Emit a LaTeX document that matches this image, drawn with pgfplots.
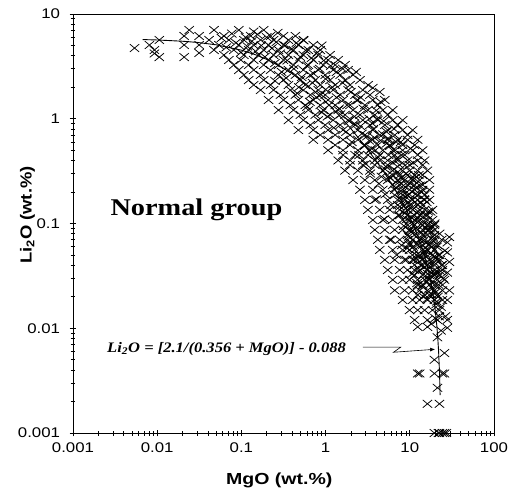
\documentclass[border=0pt]{standalone}
\usepackage{fontspec}
\setmainfont{Liberation Serif}
\newfontfamily\tickfont{Liberation Sans}[FakeStretch=1.2]
\newfontfamily\labelfont{Liberation Sans}
\newfontfamily\titlefont{Liberation Serif}[FakeStretch=1.18, BoldFeatures={FakeStretch=1.18}]
\newfontfamily\eqfont{Liberation Serif}
\usepackage{pgfplots}
\pgfplotsset{compat=1.18}
\usetikzlibrary{arrows.meta}

\begin{document}
\begin{tikzpicture}
\begin{loglogaxis}[
  scale only axis,
  width=421pt, height=419pt,
  xmin=0.001, xmax=100, ymin=0.001, ymax=10,
  xtick={0.001,0.01,0.1,1,10,100},
  xticklabels={0.001,0.01,0.1,1,10,100},
  ytick={0.001,0.01,0.1,1,10},
  yticklabels={0.001,0.01,0.1,1,10},
  xtick pos=bottom, ytick pos=left,
  tick align=center,
  major tick length=7pt, minor tick length=5pt,
  tick style={black, line width=0.6pt},
  axis line style={line width=0.8pt},
  ticklabel style={font=\tickfont\fontsize{14}{14}\selectfont},
  xticklabel style={anchor=center, yshift=-11pt},
  yticklabel style={anchor=east, xshift=-6pt},
  xlabel={\scalebox{1.22}[1]{\labelfont\bfseries MgO (wt.\%)}},
  ylabel={\scalebox{1.15}[1]{\labelfont\bfseries Li\textsubscript{2}O (wt.\%)}},
  label style={font=\fontsize{16}{16}\selectfont},
  xlabel style={at={(axis description cs:0.49,-0.112)}, anchor=center},
  ylabel style={at={(axis description cs:-0.108,0.52)}, anchor=center},
  clip=false,
]
% measured points
\addplot[only marks, mark=x, mark size=5.5pt, black, line width=0.75pt,
  mark options={xscale=1.2}] coordinates {
(0.024,7.03)(0.0473,7.03)(0.0932,7.03)(0.184,7.03)
(0.0209,6.17)(0.0315,6.17)(0.062,6.17)(0.129,6.17)(0.222,6.17)(0.316,6.17)(0.438,6.17)
(0.0106,5.65)(0.0413,5.65)(0.071,5.65)(0.107,5.65)(0.169,5.65)(0.241,5.65)(0.362,5.65)(0.544,5.65)
(0.00809,5.06)(0.0209,5.06)(0.0315,5.06)(0.0541,5.06)(0.0932,5.06)(0.140,5.06)(0.210,5.06)(0.316,5.06)(0.475,5.06)(0.714,5.06)
(0.00538,4.73)(0.00927,4.53)(0.0473,4.53)(0.0813,4.53)(0.122,4.53)(0.184,4.53)(0.276,4.53)(0.415,4.53)(0.624,4.53)(0.864,4.53)
(0.0106,3.88)(0.0209,3.88)(0.0315,4.25)(0.00927,4.2)(0.062,4.06)(0.107,4.06)(0.160,4.06)(0.241,4.06)(0.362,4.06)(0.544,4.06)(0.818,4.06)(1.13,4.06)
(0.071,3.64)(0.0984,3.64)(0.140,3.64)(0.210,3.64)(0.316,3.64)(0.475,3.64)(0.714,3.64)(1.07,3.64)(1.41,3.64)
(0.0813,3.26)(0.122,3.26)(0.184,3.26)(0.276,3.26)(0.415,3.26)(0.624,3.26)(0.937,3.26)(1.30,3.26)(1.70,3.26)
(0.0932,2.92)(0.140,2.92)(0.222,2.92)(0.362,2.92)(0.544,2.92)(0.818,2.92)(1.23,2.92)(1.85,2.92)
(0.107,2.62)(0.169,2.62)(0.276,2.62)(0.438,2.62)(0.659,2.62)(0.989,2.62)(1.49,2.62)(2.12,2.62)
(0.122,2.34)(0.184,2.34)(0.316,2.34)(0.502,2.34)(0.754,2.34)(1.13,2.34)(1.70,2.34)(2.56,2.34)
(0.140,2.10)(0.222,2.10)(0.362,2.10)(0.574,2.10)(0.864,2.10)(1.30,2.10)(1.95,2.10)
(3.64,1.97)(4.40,1.80)
(0.169,1.88)(0.241,1.88)(0.382,1.88)(0.544,1.88)(0.818,1.88)(1.23,1.88)(1.85,1.88)(2.77,1.88)
(0.291,1.69)(0.438,1.69)(0.659,1.69)(0.989,1.69)(1.49,1.69)(2.24,1.69)(3.36,1.69)
(0.210,1.51)(0.316,1.51)(0.475,1.51)(0.714,1.51)(1.07,1.51)(1.61,1.51)(2.42,1.51)(3.64,1.51)(5.05,1.51)
(0.382,1.35)(0.574,1.35)(0.864,1.35)(1.30,1.35)(1.95,1.35)(2.93,1.35)(4.17,1.35)
(0.276,1.21)(0.415,1.21)(0.624,1.21)(0.937,1.21)(1.41,1.21)(2.12,1.21)(3.18,1.21)(4.78,1.21)(6.27,1.21)
(0.502,1.09)(0.754,1.09)(1.13,1.09)(1.70,1.09)(2.56,1.09)(3.84,1.09)(5.47,1.09)
(0.362,0.97)(0.544,0.97)(0.818,0.97)(1.23,0.97)(1.85,0.97)(2.77,0.97)(4.17,0.97)(6.27,0.97)(8.22,0.97)
(0.659,0.872)(0.989,0.872)(1.49,0.872)(2.24,0.872)(3.36,0.872)(5.05,0.872)(7.18,0.872)
(0.475,0.78)(0.714,0.78)(1.07,0.78)(1.61,0.78)(2.42,0.78)(3.64,0.78)(5.47,0.78)(8.22,0.78)(10.8,0.78)
(0.864,0.70)(1.30,0.70)(1.95,0.70)(2.93,0.70)(4.40,0.70)(6.62,0.70)(9.42,0.70)
(0.714,0.63)(1.07,0.63)(1.61,0.63)(2.42,0.63)(3.64,0.63)(5.47,0.63)(7.18,0.63)(9.42,0.63)(12.4,0.63)
(1.30,0.561)(1.95,0.561)(2.93,0.561)(4.17,0.561)(5.78,0.561)(8.22,0.561)(11.4,0.561)
(1.07,0.50)(1.61,0.50)(2.42,0.50)(3.36,0.50)(4.78,0.50)(6.27,0.50)(8.22,0.50)(10.8,0.50)(14.2,0.50)
(1.61,0.451)(2.24,0.451)(3.18,0.451)(4.40,0.451)(6.62,0.451)(8.68,0.451)(12.4,0.451)
(1.41,0.40)(1.95,0.40)(2.77,0.40)(3.84,0.40)(5.47,0.40)(7.18,0.40)(9.42,0.40)(12.4,0.40)(15.0,0.40)
(1.95,0.362)(2.77,0.362)(3.84,0.362)(5.47,0.362)(7.58,0.362)(9.95,0.362)(14.2,0.362)
(1.70,0.32)(2.42,0.32)(3.36,0.32)(4.78,0.32)(6.27,0.32)(8.22,0.32)(9.95,0.32)(12.4,0.32)(16.2,0.32)
(6.27,0.29)(7.58,0.29)(9.42,0.29)(11.4,0.29)(14.2,0.29)
(2.12,0.26)(2.93,0.26)(3.84,0.26)(5.47,0.26)(7.18,0.26)(8.68,0.26)(10.8,0.26)(13.1,0.26)(17.1,0.26)
(6.27,0.233)(7.58,0.233)(9.42,0.233)(11.4,0.233)(14.2,0.233)
(2.56,0.21)(3.64,0.21)(4.78,0.21)(6.62,0.21)(8.22,0.21)(9.95,0.21)(11.4,0.21)(14.2,0.21)(17.1,0.21)
(6.62,0.187)(8.22,0.187)(9.42,0.187)(12.4,0.187)(15.0,0.187)
(2.93,0.168)(3.84,0.168)(5.47,0.168)(7.18,0.168)(8.68,0.168)(10.8,0.168)(12.4,0.168)(15.0,0.168)(17.1,0.168)
(7.18,0.15)(8.68,0.15)(9.95,0.15)(12.4,0.15)(14.2,0.15)
(3.18,0.135)(4.40,0.135)(5.78,0.135)(7.58,0.135)(9.42,0.135)(10.8,0.135)(13.1,0.135)(15.0,0.135)(18.6,0.135)
(7.58,0.12)(9.42,0.12)(11.4,0.12)(13.1,0.12)(16.2,0.12)
(3.64,0.108)(4.78,0.108)(6.27,0.108)(8.22,0.108)(9.95,0.108)(11.4,0.108)(13.1,0.108)(16.2,0.108)(18.6,0.108)
(9.42,0.0968)(11.4,0.0968)(14.2,0.0968)(16.2,0.0968)(19.6,0.0968)
(3.84,0.087)(5.05,0.087)(6.62,0.087)(8.22,0.087)(9.95,0.087)(12.4,0.087)(14.2,0.087)(17.1,0.087)(19.6,0.087)
(9.42,0.0777)(11.4,0.0777)(14.2,0.0777)(16.2,0.0777)(19.6,0.0777)
(29.5,0.0743)
(4.17,0.07)(5.78,0.07)(7.58,0.07)(9.42,0.07)(10.8,0.07)(13.1,0.07)(15.0,0.07)(18.6,0.07)(27.9,0.066)
(9.95,0.0624)(12.4,0.0624)(14.2,0.0624)(17.1,0.0624)(21.3,0.0624)
(4.40,0.056)(6.27,0.056)(8.22,0.056)(9.95,0.056)(11.4,0.056)(14.2,0.056)(16.2,0.056)(19.6,0.056)(27.9,0.053)
(10.8,0.05)(13.1,0.05)(15.0,0.05)(18.6,0.05)(22.5,0.05)
(5.05,0.045)(6.62,0.045)(8.68,0.045)(10.8,0.045)(12.4,0.045)(14.2,0.045)(17.1,0.045)(21.3,0.045)(29.5,0.043)
(11.4,0.0402)(14.2,0.0402)(16.2,0.0402)(19.6,0.0402)(24.4,0.0402)
(5.47,0.036)(7.58,0.036)(9.42,0.036)(11.4,0.036)(13.1,0.036)(16.2,0.036)(19.6,0.036)(24.4,0.036)(27.9,0.034)
(11.4,0.0322)(14.2,0.0322)(17.1,0.0322)(19.6,0.0322)(22.5,0.0322)
(6.27,0.029)(8.22,0.029)(9.95,0.029)(12.4,0.029)(15.0,0.029)(17.1,0.029)(21.3,0.029)(25.8,0.029)
(12.4,0.0259)(14.2,0.0259)(17.1,0.0259)(19.6,0.0259)(24.4,0.0259)
(6.62,0.023)(8.68,0.023)(10.8,0.023)(13.1,0.023)(16.2,0.023)(19.6,0.023)(24.4,0.023)(29.5,0.023)
(12.4,0.0208)(15.0,0.0208)(17.1,0.0208)(21.3,0.0208)
(8.22,0.0186)(10.8,0.0186)(13.1,0.0186)(16.2,0.0186)(19.6,0.0186)(24.4,0.0186)(27.9,0.0186)
(9.95,0.0149)(12.4,0.0149)(15.0,0.0149)(18.6,0.0149)(22.5,0.0149)
(11.4,0.012)(16.2,0.012)(21.3,0.012)(27.9,0.012)
(12.4,0.0103)(16.2,0.0103)(27.9,0.0101)
(21.3,0.0082)(25.8,0.0058)(19.6,0.005)
(12.4,0.0037)(13.1,0.0037)(19.6,0.0037)(24.4,0.0037)(25.8,0.0037)
(21.3,0.0027)(16.2,0.0019)(22.5,0.0019)
(19.6,0.001)(21.9,0.001)(22.5,0.001)(24.4,0.001)(25.8,0.001)(27.2,0.001)
(0.058,5.9)(0.066,4.8)(0.077,6.5)(0.086,5.3)(0.099,4.3)(0.112,6.0)(0.118,4.9)(0.133,5.5)
(0.148,4.4)(0.155,6.4)(0.172,5.0)(0.19,3.9)(0.2,6.0)(0.23,4.7)(0.25,3.4)(0.26,5.4)
(0.29,4.2)(0.3,2.8)(0.33,5.0)(0.35,3.6)(0.39,4.6)(0.42,3.0)(0.45,5.3)(0.5,3.9)
(0.52,2.5)(0.58,4.5)(0.6,3.2)(0.68,3.8)(0.72,2.7)(0.8,4.3)(0.85,3.0)(0.95,3.6)
(1.0,2.4)(1.15,3.2)(1.2,2.0)(1.35,2.8)
(0.46,1.75)(0.6,1.3)(0.7,2.2)(0.78,1.6)(0.9,1.15)(1.0,1.9)(1.1,1.35)(1.25,0.82)
(1.35,1.6)(1.5,1.1)(1.6,2.2)(1.75,0.75)(1.8,1.35)(2.0,1.8)(2.05,0.6)(2.2,1.05)
(2.35,1.5)(2.5,0.45)(2.6,0.85)(2.8,1.25)(3.0,0.37)(3.1,0.68)(3.3,1.0)(3.5,0.52)
(3.7,0.8)(4.0,1.2)(4.2,0.43)(4.5,0.62)(4.9,0.95)(5.2,0.35)(5.8,0.55)(6.5,0.8)
(7.0,0.42)(7.8,0.6)(8.8,0.36)(10.2,0.52)
(4.3,0.24)(5.1,0.19)(5.7,0.28)(6.0,0.15)(6.8,0.22)(7.3,0.12)(7.9,0.27)(8.5,0.095)
(8.9,0.18)(9.7,0.075)(10.2,0.24)(10.4,0.14)(11.0,0.06)(11.6,0.19)(12.0,0.11)(12.8,0.048)
(13.4,0.16)(13.7,0.082)(14.8,0.038)(15.3,0.12)(15.6,0.065)(16.8,0.03)(17.4,0.09)(17.8,0.052)
(18.2,0.021)(18.9,0.075)(19.2,0.043)(20.3,0.033)(20.6,0.017)(21.0,0.06)(22.0,0.026)(23.0,0.045)
(23.5,0.016)(24.0,0.07)(25.0,0.03)(26.0,0.055)(10.6,0.033)(9.1,0.045)(8.0,0.062)(7.0,0.05)
(12.2,0.027)(14.5,0.02)(6.0,0.07)(5.0,0.11)(26.5,0.013)(20.0,0.0125)(23.5,0.0095)(18.0,0.011)
(6.5,0.33)(7.5,0.25)(8.2,0.2)(9.0,0.3)(9.6,0.16)(10.5,0.27)(10.9,0.1)(11.8,0.22)
(12.6,0.13)(13.0,0.07)(13.9,0.2)(14.6,0.105)(15.2,0.055)(15.9,0.16)(16.5,0.085)(17.2,0.042)
(17.7,0.13)(18.4,0.06)(19.0,0.033)(19.8,0.1)(20.5,0.047)(21.6,0.02)(22.6,0.08)(23.2,0.035)
(10.0,0.085)(11.2,0.045)(12.9,0.035)(14.0,0.025)(16.0,0.019)(8.7,0.125)(7.6,0.145)(9.3,0.058)
(11.0,0.38)(12.8,0.29)(8.0,0.45)(6.9,0.6)(5.3,0.75)(4.6,0.28)(3.4,0.3)(4.0,0.17)
(0.25,2.3)(0.34,2.45)(0.48,2.0)(0.65,1.45)(0.88,1.7)(1.05,1.05)(1.45,1.25)(1.9,0.95)
(2.6,1.6)(2.9,0.55)(3.8,0.66)(5.5,0.65)(4.5,1.45)(3.2,2.1)(2.3,2.8)(1.6,3.0)
(0.9,5.0)(0.55,5.6)(0.27,6.6)(0.14,6.8)
(8.4,0.23)(9.9,0.19)(11.5,0.16)(13.3,0.12)(15.5,0.09)(17.5,0.065)(19.3,0.048)(21.2,0.035)
(9.2,0.11)(10.7,0.085)(12.3,0.065)(14.2,0.046)(16.3,0.033)(18.6,0.024)(20.9,0.018)(7.8,0.17)
(9.0,0.14)(10.3,0.115)(11.9,0.09)(13.6,0.072)(15.1,0.052)(16.9,0.038)(18.8,0.028)(20.2,0.022)
(22.3,0.013)(11.3,0.27)(13.2,0.23)(14.8,0.17)(16.6,0.13)(18.1,0.095)(19.9,0.07)(21.8,0.05)
(23.8,0.04)(13.5,0.04)(15.8,0.028)(12.0,0.05)(10.0,0.065)
(2.7,0.72)(3.3,0.62)(3.9,0.5)(4.4,0.4)(5.1,0.33)(5.9,0.27)(2.2,0.9)(3.6,0.9)
(4.8,0.71)(5.6,0.45)(6.3,0.38)(7.2,0.31)(4.1,1.0)(5.3,0.58)(6.7,0.5)
};
% fitted curve Li2O = 2.1/(0.356+MgO) - 0.088
\addplot[black, line width=0.9pt] coordinates {
(0.0067,5.702)(0.01,5.650)(0.02,5.497)(0.03,5.352)(0.05,5.084)(0.1,4.517)
(0.15,4.062)(0.2,3.689)(0.3,3.113)(0.4,2.690)(0.5,2.365)(0.7,1.901)(1,1.461)
(1.5,1.043)(2,0.8033)(3,0.5377)(4,0.3941)(5,0.3041)(6,0.2424)(7,0.1975)
(8,0.1633)(9,0.1365)(10,0.1148)(11,0.0969)(12,0.0820)(13,0.0692)(14,0.0583)
(15,0.0488)(16,0.0404)(17,0.0330)(18,0.0264)(19,0.0205)(20,0.01516)
(21,0.01033)(21.5,0.00808)(22,0.00593)(22.5,0.00388)(22.7,0.00308)(22.9,0.00230)
};
\node[font=\titlefont\bfseries\fontsize{24}{24}\selectfont] at (axis cs:0.0292,0.135) {Normal group};
\node[anchor=east, font=\fontsize{14.5}{14.5}\selectfont, inner sep=0pt]
  at (axis cs:1.75,0.0064) {\scalebox{1.14}[1]{\eqfont\bfseries\itshape Li\textsubscript{2}O = [2.1/(0.356 + MgO)] - 0.088}};
\draw[line width=0.6pt, -{Latex[length=5pt,width=4pt]}]
  (axis cs:2.77,0.0066) -- (axis cs:7.8,0.0066) -- (axis cs:6.4,0.0059) -- (axis cs:20,0.0063);
\end{loglogaxis}
\pgfresetboundingbox
\path ([shift={(-73pt,-59pt)}]current axis.south west) rectangle ([shift={(15pt,14pt)}]current axis.north east);
\end{tikzpicture}
\end{document}
